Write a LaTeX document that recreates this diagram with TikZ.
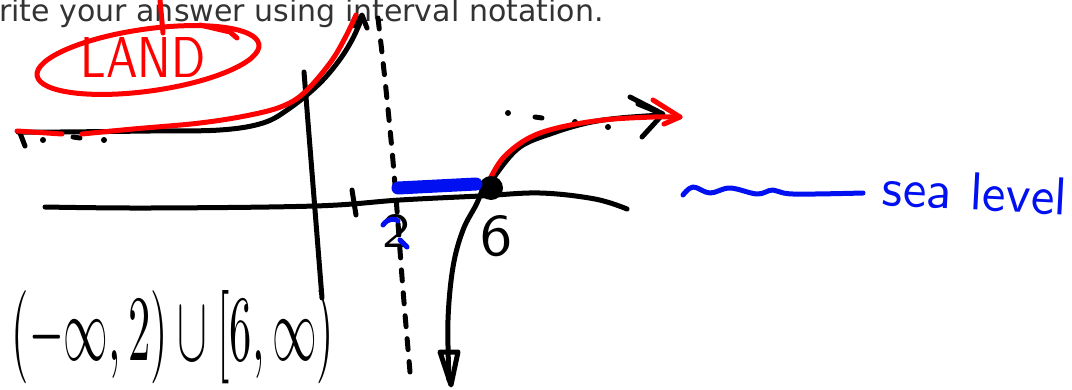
\documentclass[tikz,border=0pt]{standalone}
\usepackage{fontspec}
\usepackage{graphicx}
\newfontfamily\headfont{DejaVu Sans}
\definecolor{headgray}{HTML}{333333}
\definecolor{penred}{HTML}{FF0000}
\definecolor{penblue}{HTML}{0010F0}
\tikzset{
  pen/.style={line width=5pt, line cap=round, line join=round},
  blk/.style={pen, black},
  rd/.style={pen, penred},
  bl/.style={pen, penblue},
  asym/.style={pen, black, dash pattern=on 11pt off 12pt},
  hand/.style={inner sep=0pt, font=\sffamily},
}
\begin{document}
\begin{tikzpicture}[x=1pt,y=-1pt]
\useasboundingbox[fill=white] (0,0) rectangle (1072,389);
% header
\node[anchor=base west, inner sep=0pt, text=headgray, font=\headfont\fontsize{30}{36}\selectfont] (head) at (-1,21) {rite your answer using interval notation.};
% LAND ellipse
\draw[rd] (148,60) ellipse [x radius=112pt, y radius=31pt, rotate=8];
\draw[rd] (200,25) -- (230,32) -- (237,38);
\draw[rd] (160,0) -- (163,33);
\node[hand, text=penred] (land) at (143,57) {\resizebox{125pt}{40pt}{LAND}};
% axes
\draw[blk] (304,72) -- (322,298);
\draw[blk] plot[smooth, tension=0.6] coordinates {(45,207) (150,208) (315,206) (400,200) (480,196) (540,193) (595,199) (627,209)};
\draw[blk] (352,190) -- (356,215);
% asymptote
\draw[asym] plot[smooth] coordinates {(378,18) (385,80) (392,150) (397,210) (403,290) (410,372)};
% left branch
\draw[blk] plot[smooth, tension=0.6] coordinates {(18,132) (60,132) (150,131) (220,130) (263,123) (290,108) (318,85) (338,62) (352,40) (362,18)};
\draw[blk] (20,133) -- (25,146);
\fill (43,140) circle (3pt);
\draw[blk] (73,137) -- (80,138);
\fill (104,140) circle (3pt);
\draw[blk] (355,26) -- (362,15) -- (367,28);
\draw[rd] (17,131) -- (62,134);
\draw[rd] plot[smooth, tension=0.6] coordinates {(82,134) (133,129) (200,123) (250,115) (283,106) (305,92) (330,63) (345,38) (356,15)};
% right branch
\draw[blk] plot[smooth, tension=0.6] coordinates {(485,182) (477,203) (463,230) (453,267) (448,320) (449,380)};
\draw[blk] (440,352) -- (458,352) -- (451,385) -- cycle;
\draw[blk] plot[smooth, tension=0.6] coordinates {(489,188) (497,173) (520,147) (553,133) (587,123) (620,118) (662,115)};
\draw[blk] (630,97) -- (663,114) -- (642,137);
\draw[blk] (638,104) -- (660,113);
\fill (508,113) circle (3pt);
\draw[blk] (535,117) -- (542,118);
\fill (575,122) circle (3pt);
\fill (608,127) circle (3pt);
\draw[rd] plot[smooth, tension=0.6] coordinates {(490,179) (503,158) (527,139) (557,128) (603,120) (653,117) (680,117)};
\draw[rd] (653,100) -- (680,117) -- (664,124);
% intersection dot
\fill (491,188) circle (12pt);
% blue scribble
\draw[bl, line width=13pt] (398,188) -- (476,184);
% labels 2 and 6
\node[hand, text=black] (two) at (396,231) {\resizebox{28pt}{33pt}{2}};
\draw[bl] (383,225) .. controls (388,218) and (395,218) .. (398,221);
\draw[bl] (400,240) -- (407,247);
\node[hand, text=black] (six) at (496,236) {\resizebox{32pt}{40pt}{6}};
% sea level
\draw[bl] plot[smooth, tension=0.6] coordinates {(683,195) (693,187) (710,193) (730,188) (757,194) (773,190) (793,194) (863,193)};
\node[hand, text=penblue, rotate=-3] (sea) at (975,192) {\resizebox{185pt}{!}{sea level}};
% interval
\node[inner sep=0pt] (interval) at (173,337) {\resizebox{322pt}{70pt}{$(-\infty,2)\cup[6,\infty)$}};
\end{tikzpicture}
\end{document}
